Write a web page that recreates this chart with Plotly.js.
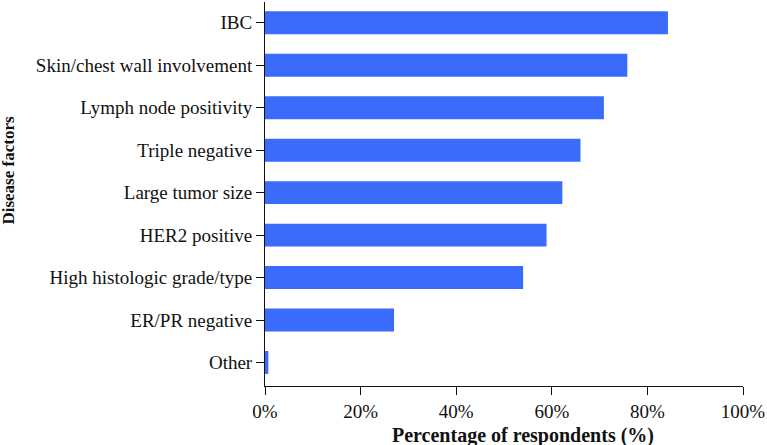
<!DOCTYPE html>
<html>
<head>
<meta charset="utf-8">
<script src="https://cdn.plot.ly/plotly-3.0.1.min.js"></script>
<style>html,body{margin:0;padding:0;background:#fff;}#chart{width:767px;height:445px;}</style>
</head>
<body>
<div id="chart"></div>
<script>
const categories = ["IBC", "Skin/chest wall involvement", "Lymph node positivity", "Triple negative", "Large tumor size", "HER2 positive", "High histologic grade/type", "ER/PR negative", "Other"];
const percentages = [84.3, 75.8, 70.9, 66.0, 62.2, 58.9, 54.0, 27.0, 0.7];
const xTickValues = [0, 20, 40, 60, 80, 100];
const xTickLabels = ["0%", "20%", "40%", "60%", "80%", "100%"];
const xTitle = "Percentage of respondents (%)";
const yTitle = "Disease factors";

const font = "'Liberation Serif', 'Times New Roman', serif";

const trace = {
  type: "bar",
  orientation: "h",
  x: percentages,
  y: categories,
  width: 0.54,
  marker: {color: "#3a6bfa", line: {width: 0}},
  hoverinfo: "skip"
};

const layout = {
  width: 767,
  height: 445,
  margin: {l: 265, r: 24, t: 2, b: 59, pad: 0},
  paper_bgcolor: "#ffffff",
  plot_bgcolor: "#ffffff",
  showlegend: false,
  font: {family: font, size: 19, color: "#111"},
  xaxis: {
    range: [0, 100],
    tickvals: xTickValues,
    ticktext: xTickLabels,
    ticks: "outside",
    ticklen: 8,
    tickwidth: 1,
    tickcolor: "#111",
    showline: true,
    linecolor: "#111",
    linewidth: 1,
    showgrid: false,
    zeroline: false,
    tickfont: {family: font, size: 19, color: "#111"}
  },
  yaxis: {
    type: "category",
    range: [8.554, -0.49],
    ticks: "outside",
    ticklen: 8,
    tickwidth: 1,
    tickcolor: "#111",
    showline: true,
    linecolor: "#111",
    linewidth: 1,
    showgrid: false,
    zeroline: false,
    tickfont: {family: font, size: 19, color: "#111"}
  },
  annotations: [
    {text: "<b>" + xTitle + "</b>", xref: "paper", yref: "paper", x: 0.5397, y: -0.130,
     xanchor: "center", yanchor: "middle", showarrow: false,
     font: {family: font, size: 20, color: "#111"}},
    {text: "<b>" + yTitle + "</b>", xref: "paper", yref: "paper", x: -0.5356, y: 0.561,
     xanchor: "center", yanchor: "middle", showarrow: false, textangle: -90,
     font: {family: font, size: 17, color: "#111"}}
  ]
};

Plotly.newPlot("chart", [trace], layout, {displayModeBar: false, staticPlot: true});
</script>
</body>
</html>
